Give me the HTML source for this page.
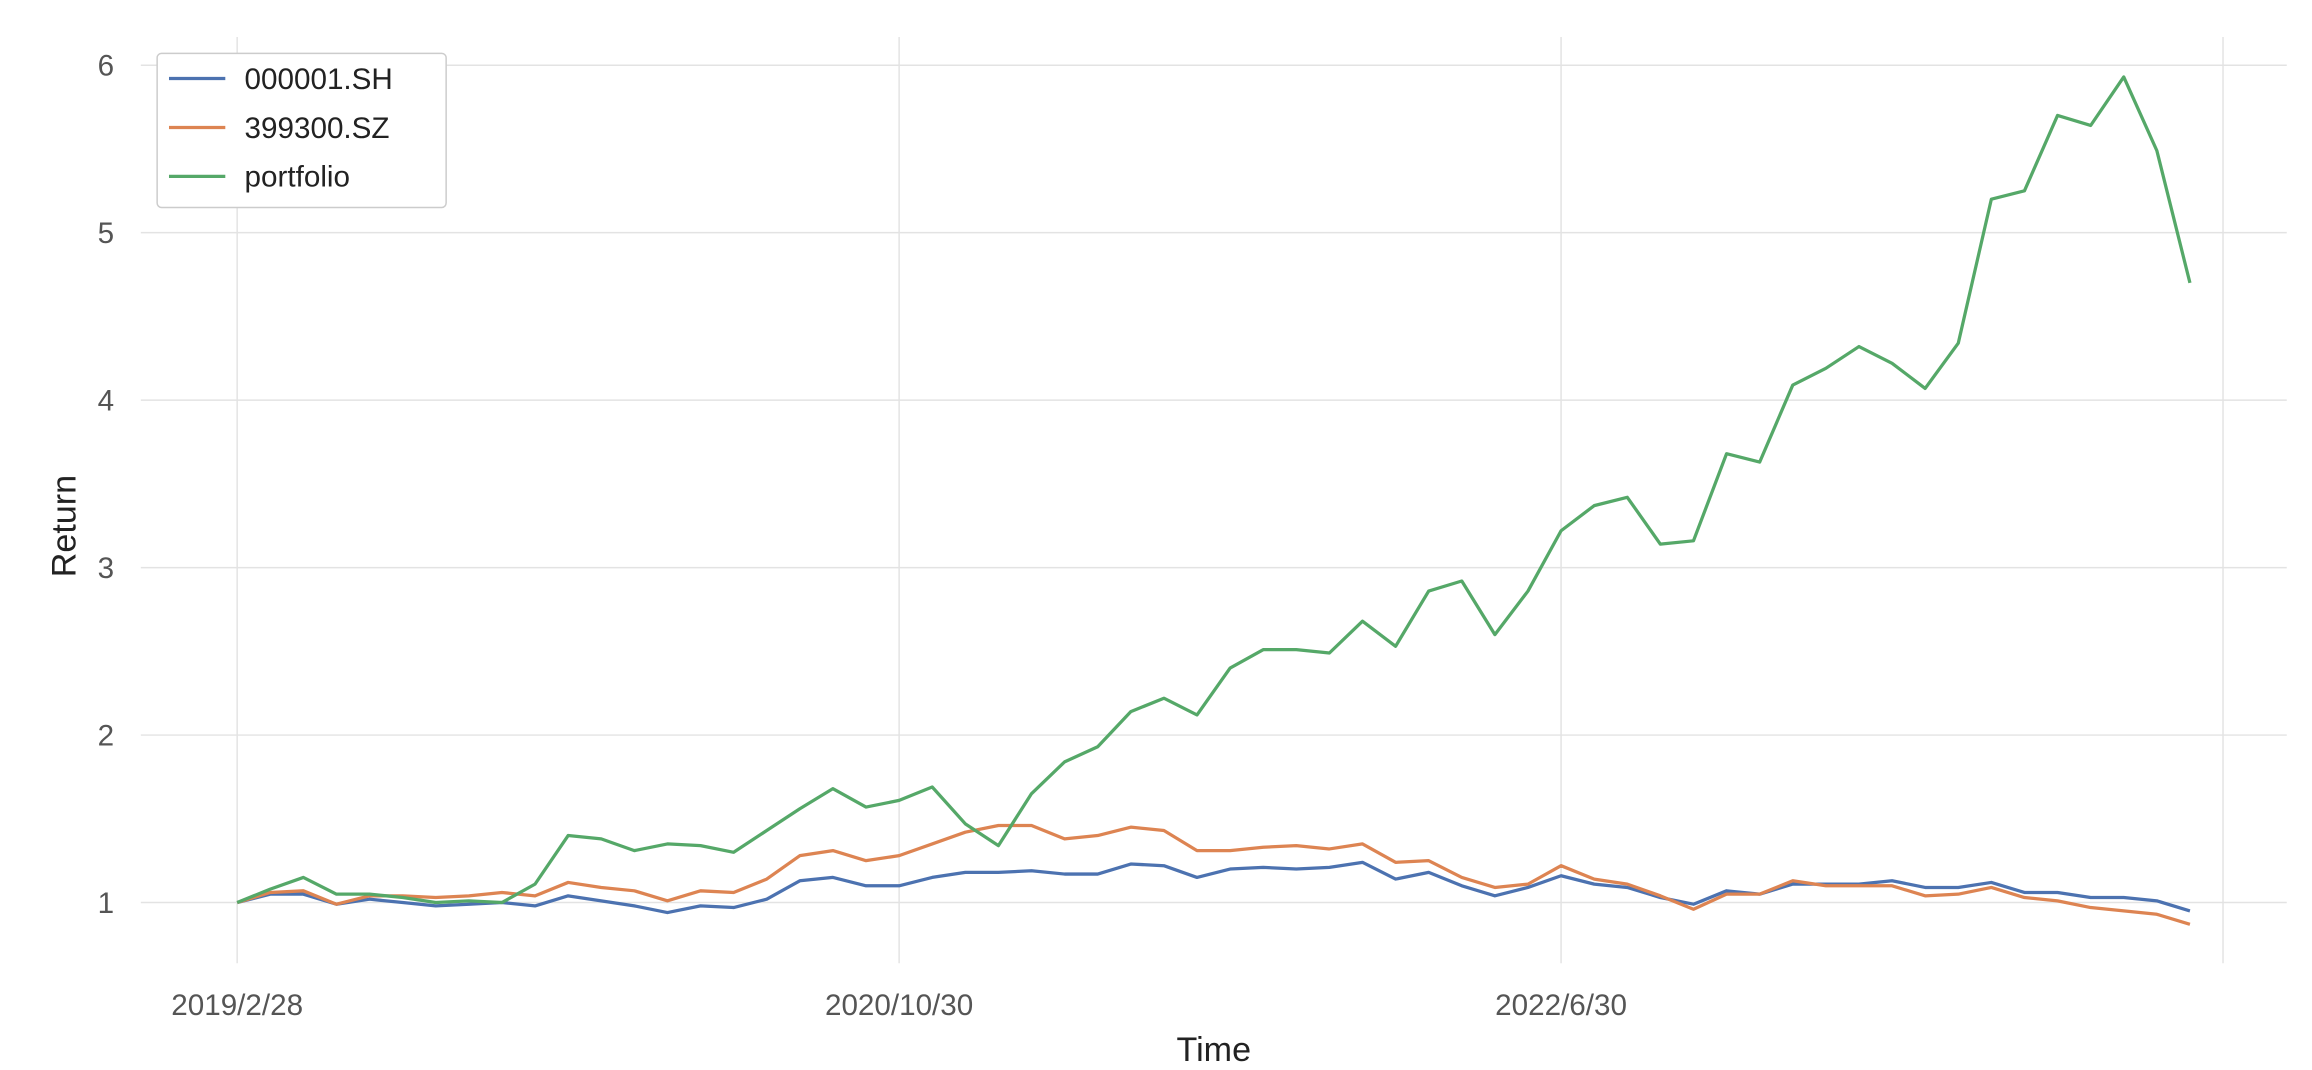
<!DOCTYPE html>
<html><head><meta charset="utf-8"><style>
html,body{margin:0;padding:0;background:#fff;}
svg{display:block;font-family:"Liberation Sans",Arial,sans-serif;}
</style></head><body>
<svg id="chart" width="2312" height="1070" viewBox="0 0 1560 722" xmlns="http://www.w3.org/2000/svg">
<g id="grid"></g>
<g id="lines"></g>
<g id="ticks"></g>
<text x="819" y="716" font-size="23" fill="#222" text-anchor="middle">Time</text>
<text transform="translate(51,355) rotate(-90)" font-size="23" fill="#222" text-anchor="middle">Return</text>
<g>
<rect x="106" y="36" width="195" height="104" rx="3" fill="#fff" stroke="#ccc" stroke-width="1"/>
<line x1="114" y1="53" x2="152" y2="53" stroke="#4c72b0" stroke-width="2.2"/>
<text x="165" y="60" font-size="20" fill="#222">000001.SH</text>
<line x1="114" y1="86" x2="152" y2="86" stroke="#dd8452" stroke-width="2.2"/>
<text x="165" y="93" font-size="20" fill="#222">399300.SZ</text>
<line x1="114" y1="119" x2="152" y2="119" stroke="#55a868" stroke-width="2.2"/>
<text x="165" y="126" font-size="20" fill="#222">portfolio</text>
</g>
</svg>
<script>
const xTickLabels = ["2019/2/28","2020/10/30","2022/6/30",""];
const xTickIndex = [0,20,40,60];
const yTicks = [1,2,3,4,5,6];
const sh = [1.0,1.05,1.05,0.99,1.02,1.0,0.98,0.99,1.0,0.98,1.04,1.01,0.98,0.94,0.98,0.97,1.02,1.13,1.15,1.10,1.10,1.15,1.18,1.18,1.19,1.17,1.17,1.23,1.22,1.15,1.20,1.21,1.20,1.21,1.24,1.14,1.18,1.10,1.04,1.09,1.16,1.11,1.09,1.03,0.99,1.07,1.05,1.11,1.11,1.11,1.13,1.09,1.09,1.12,1.06,1.06,1.03,1.03,1.01,0.95];
const sz = [1.0,1.06,1.07,0.99,1.04,1.04,1.03,1.04,1.06,1.04,1.12,1.09,1.07,1.01,1.07,1.06,1.14,1.28,1.31,1.25,1.28,1.35,1.42,1.46,1.46,1.38,1.40,1.45,1.43,1.31,1.31,1.33,1.34,1.32,1.35,1.24,1.25,1.15,1.09,1.11,1.22,1.14,1.11,1.04,0.96,1.05,1.05,1.13,1.10,1.10,1.10,1.04,1.05,1.09,1.03,1.01,0.97,0.95,0.93,0.87];
const portfolio = [1.0,1.08,1.15,1.05,1.05,1.03,1.0,1.01,1.0,1.11,1.40,1.38,1.31,1.35,1.34,1.30,1.43,1.56,1.68,1.57,1.61,1.69,1.47,1.34,1.65,1.84,1.93,2.14,2.22,2.12,2.40,2.51,2.51,2.49,2.68,2.53,2.86,2.92,2.60,2.86,3.22,3.37,3.42,3.14,3.16,3.68,3.63,4.09,4.19,4.32,4.22,4.07,4.34,5.20,5.25,5.70,5.64,5.93,5.49,4.70];

const NS="http://www.w3.org/2000/svg";
const xs = i => 160 + i*(1340/60);
const ys = v => 609 - (v-1)*113;
function mk(tag, attrs, parent){const e=document.createElementNS(NS,tag);for(const k in attrs)e.setAttribute(k,attrs[k]);parent.appendChild(e);return e;}
const grid=document.getElementById('grid'), lines=document.getElementById('lines'), ticks=document.getElementById('ticks');
yTicks.forEach(v=>{
  const l=mk('line',{x1:95,x2:1543,y1:ys(v),y2:ys(v),stroke:'#e3e3e3','stroke-width':1},grid);
  
  
  const t=mk('text',{x:77,y:ys(v)+7,'font-size':20,fill:'#555','text-anchor':'end'},ticks);
  t.textContent=v;
  
  
});
xTickIndex.forEach((idx,k)=>{
  const l=mk('line',{x1:xs(idx),x2:xs(idx),y1:25,y2:650,stroke:'#e3e3e3','stroke-width':1},grid);
  
  
  if(xTickLabels[k]){
    const t=mk('text',{x:xs(idx),y:685,'font-size':20,fill:'#555','text-anchor':'middle'},ticks);
    t.textContent=xTickLabels[k];
    
    
  }
});
[[sh,'#4c72b0','line-000001-sh'],[sz,'#dd8452','line-399300-sz'],[portfolio,'#55a868','line-portfolio']].forEach(([d,c,n])=>{
  const p=mk('polyline',{points:d.map((v,i)=>xs(i)+','+ys(v)).join(' '),fill:'none',stroke:c,'stroke-width':2.2,'stroke-linejoin':'round'},lines);
  
  
});
</script>
</body></html>
